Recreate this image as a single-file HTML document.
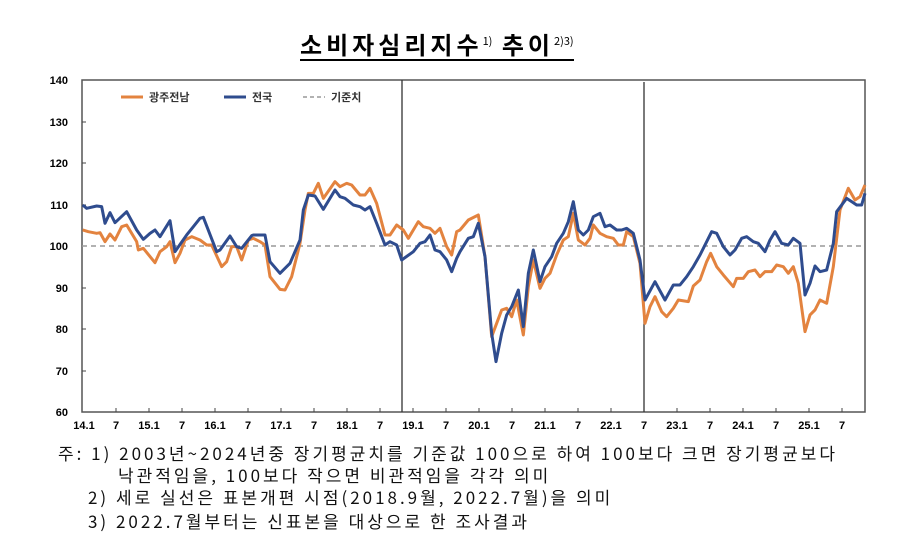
<!DOCTYPE html>
<html><head><meta charset="utf-8"><style>
body{margin:0;background:#fff;width:919px;height:546px;overflow:hidden;position:relative;font-family:"Liberation Sans","Noto Sans CJK KR",sans-serif}
.t{position:absolute;left:300px;top:26px;font-size:24px;font-weight:bold;font-family:"Noto Sans CJK KR",sans-serif;border-bottom:2px solid #000;line-height:30px;letter-spacing:4px}
.t sup{font-size:11px;font-weight:normal;letter-spacing:0}
.f{position:absolute;font-family:"Noto Sans CJK KR",sans-serif;font-size:17px;letter-spacing:3px;color:#111;white-space:nowrap;line-height:20px}
</style></head><body>
<div class="t">소비자심리지수<sup>1)</sup> 추이<sup>2)3)</sup></div>
<svg width="919" height="546" style="position:absolute;left:0;top:0">
<g font-size="11" font-weight="bold" fill="#000" text-anchor="end" font-family="Liberation Sans, sans-serif">
<text x="68" y="84">140</text><text x="68" y="126">130</text><text x="68" y="167">120</text><text x="68" y="209">110</text><text x="68" y="250">100</text><text x="68" y="292">90</text><text x="68" y="333">80</text><text x="68" y="375">70</text><text x="68" y="416">60</text>
</g>
<g font-size="11" font-weight="bold" fill="#000" text-anchor="middle" font-family="Liberation Sans, sans-serif">
<text x="84" y="429">14.1</text><text x="116" y="429">7</text><text x="149" y="429">15.1</text><text x="182" y="429">7</text><text x="215" y="429">16.1</text><text x="248" y="429">7</text><text x="281" y="429">17.1</text><text x="314" y="429">7</text><text x="347" y="429">18.1</text><text x="380" y="429">7</text><text x="413" y="429">19.1</text><text x="446" y="429">7</text><text x="479" y="429">20.1</text><text x="512" y="429">7</text><text x="545" y="429">21.1</text><text x="578" y="429">7</text><text x="611" y="429">22.1</text><text x="644" y="429">7</text><text x="677" y="429">23.1</text><text x="710" y="429">7</text><text x="743" y="429">24.1</text><text x="776" y="429">7</text><text x="809" y="429">25.1</text><text x="842" y="429">7</text>
</g>
<rect x="82" y="80" width="783" height="332" fill="none" stroke="#555" stroke-width="1.5"/>
<line x1="402" y1="80" x2="402" y2="412" stroke="#333" stroke-width="1.3"/>
<line x1="644" y1="82" x2="644" y2="412" stroke="#333" stroke-width="1.3"/>
<line x1="82" y1="246" x2="865" y2="246" stroke="#999" stroke-width="1.5" stroke-dasharray="5,4"/>
<g stroke="#444" stroke-width="1">
<line x1="116" y1="412" x2="116" y2="408"/><line x1="149" y1="412" x2="149" y2="408"/><line x1="182" y1="412" x2="182" y2="408"/><line x1="215" y1="412" x2="215" y2="408"/><line x1="248" y1="412" x2="248" y2="408"/><line x1="281" y1="412" x2="281" y2="408"/><line x1="314" y1="412" x2="314" y2="408"/><line x1="347" y1="412" x2="347" y2="408"/><line x1="380" y1="412" x2="380" y2="408"/><line x1="413" y1="412" x2="413" y2="408"/><line x1="446" y1="412" x2="446" y2="408"/><line x1="479" y1="412" x2="479" y2="408"/><line x1="512" y1="412" x2="512" y2="408"/><line x1="545" y1="412" x2="545" y2="408"/><line x1="578" y1="412" x2="578" y2="408"/><line x1="611" y1="412" x2="611" y2="408"/><line x1="677" y1="412" x2="677" y2="408"/><line x1="710" y1="412" x2="710" y2="408"/><line x1="743" y1="412" x2="743" y2="408"/><line x1="776" y1="412" x2="776" y2="408"/><line x1="809" y1="412" x2="809" y2="408"/><line x1="842" y1="412" x2="842" y2="408"/>
<line x1="82" y1="122" x2="86" y2="122"/><line x1="82" y1="163" x2="86" y2="163"/><line x1="82" y1="205" x2="86" y2="205"/><line x1="82" y1="288" x2="86" y2="288"/><line x1="82" y1="329" x2="86" y2="329"/><line x1="82" y1="371" x2="86" y2="371"/>
</g>
<g transform="translate(60,70) scale(0.33333)" fill="none" stroke-width="3" stroke-linejoin="round">
<polyline vector-effect="non-scaling-stroke" stroke="#E3833F" points="68,480 85,485 110,490 120,488 135,515 150,492 165,510 185,470 200,465 230,515 235,540 250,535 285,578 300,545 320,530 330,515 345,578 360,550 375,510 395,500 420,510 440,525 455,525 485,590 500,575 515,530 530,530 545,570 565,510 580,505 600,515 615,525 630,620 660,658 675,660 695,620 720,520 735,420 745,370 760,370 775,340 790,385 825,335 840,350 860,340 875,345 900,375 915,375 930,355 950,400 975,495 990,495 1010,465 1030,480 1045,505 1075,455 1090,470 1110,475 1125,490 1140,475 1160,530 1175,555 1190,485 1200,480 1225,450 1255,435 1275,560 1295,800 1310,760 1325,720 1340,715 1355,740 1370,690 1390,795 1405,650 1420,570 1440,655 1455,625 1470,610 1490,555 1510,510 1525,500 1540,430 1555,510 1575,525 1590,505 1600,465 1620,490 1640,500 1660,505 1675,525 1690,525 1700,485 1720,500 1740,580 1755,760 1770,710 1785,680 1805,725 1820,740 1840,715 1855,690 1885,695 1900,648 1920,630 1940,575 1952,550 1970,590 1990,615 2020,650 2030,625 2050,625 2065,605 2085,600 2100,620 2115,605 2135,605 2150,585 2170,590 2185,610 2200,590 2215,640 2235,785 2250,735 2265,720 2280,690 2300,700 2320,590 2340,420 2365,355 2385,390 2400,380 2415,345"/>
<polyline vector-effect="non-scaling-stroke" stroke="#2F4C8E" points="68,405 80,415 110,408 125,410 135,460 150,428 165,458 200,425 230,480 250,508 270,490 285,480 300,500 330,452 345,545 380,495 400,470 420,445 430,442 470,545 480,540 510,498 530,530 545,535 575,497 580,495 615,495 630,575 660,610 690,580 720,510 730,420 745,375 765,378 790,418 825,360 840,380 855,385 880,405 900,410 915,420 930,410 950,460 975,525 990,515 1010,525 1025,570 1060,545 1080,520 1095,515 1110,495 1125,540 1140,545 1160,570 1175,605 1190,565 1200,545 1225,505 1240,500 1255,460 1275,560 1295,790 1308,875 1325,790 1340,735 1355,710 1375,660 1390,770 1405,610 1420,540 1440,635 1455,590 1475,560 1490,520 1510,490 1525,455 1540,395 1555,480 1570,495 1585,480 1600,440 1620,430 1635,470 1650,465 1670,480 1685,480 1700,475 1720,490 1740,570 1755,690 1785,635 1815,690 1840,645 1860,645 1880,620 1900,590 1920,555 1940,515 1955,485 1970,490 1990,530 2010,555 2025,540 2045,505 2060,500 2080,515 2095,520 2115,545 2130,510 2145,485 2165,520 2185,525 2200,505 2220,520 2235,675 2250,640 2265,588 2280,605 2300,600 2320,520 2330,425 2360,385 2375,395 2390,405 2405,405 2415,370"/>
</g>
<line x1="121" y1="97" x2="143" y2="97" stroke="#E3833F" stroke-width="3"/>
<line x1="224" y1="97" x2="246" y2="97" stroke="#2F4C8E" stroke-width="3"/>
<line x1="303" y1="97" x2="325" y2="97" stroke="#999" stroke-width="1.5" stroke-dasharray="4,3"/>
<g font-size="11" font-weight="bold" fill="#333" font-family="Noto Sans CJK KR, sans-serif">
<text x="149" y="101">광주전남</text><text x="252" y="101">전국</text><text x="331" y="101">기준치</text>
</g>
</svg>
<div class="f" style="left:58px;top:443px">주: 1) 2003년~2024년중 장기평균치를 기준값 100으로 하여 100보다 크면 장기평균보다</div>
<div class="f" style="left:118px;top:465px">낙관적임을, 100보다 작으면 비관적임을 각각 의미</div>
<div class="f" style="left:88px;top:487px">2) 세로 실선은 표본개편 시점(2018.9월, 2022.7월)을 의미</div>
<div class="f" style="left:88px;top:511px">3) 2022.7월부터는 신표본을 대상으로 한 조사결과</div>
</body></html>
